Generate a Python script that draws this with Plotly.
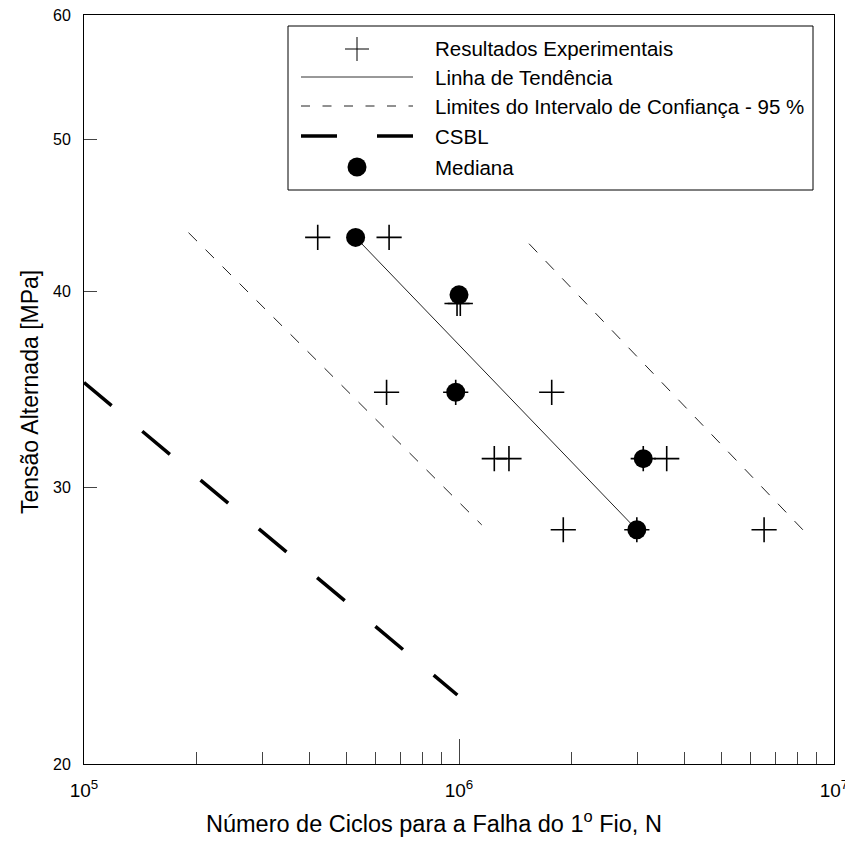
import plotly.graph_objects as go

# ---------------- data ----------------
cross_N = [4.20e5, 6.51e5, 9.88e5, 1.008e6, 6.41e5, 9.80e5, 1.767e6,
           1.242e6, 1.359e6, 3.10e6, 3.58e6, 1.897e6, 2.98e6, 6.51e6]
cross_S = [43.3, 43.3, 39.3, 39.3, 34.5, 34.5, 34.5,
           31.3, 31.3, 31.3, 31.3, 28.2, 28.2, 28.2]

median_N = [5.30e5, 1.00e6, 9.80e5, 3.10e6, 2.98e6]
median_S = [43.3, 39.8, 34.5, 31.3, 28.2]

trend_N = [5.30e5, 2.98e6]
trend_S = [43.3, 28.2]

ci_low_N = [1.90e5, 1.15e6]
ci_low_S = [43.6, 28.4]
ci_up_N = [1.537e6, 8.40e6]
ci_up_S = [42.9, 28.08]

csbl_N = [1.0e5, 9.9e5]
csbl_S = [35.0, 22.13]

x_tickvals = [1e5, 1e6, 1e7]
x_ticktext = ["10<sup>5</sup>", "10<sup>6</sup>", "10<sup>7</sup>"]
x_minor = [2e5, 3e5, 4e5, 5e5, 6e5, 7e5, 8e5, 9e5,
           2e6, 3e6, 4e6, 5e6, 6e6, 7e6, 8e6, 9e6]
y_tickvals = [20, 30, 40, 50, 60]

legend_labels = ["Resultados Experimentais", "Linha de Tendência",
                 "Limites do Intervalo de Confiança - 95 %", "CSBL", "Mediana"]
x_title = "Número de Ciclos para a Falha do 1<sup>o</sup> Fio, N"
y_title = "Tensão Alternada [MPa]"

FONT = "Liberation Sans, Arial, sans-serif"

# ---------------- layout geometry ----------------
# page offset (body margin) of the html page
OFF = 8
W, H = 853 - OFF, 845 - OFF
# plot area in page pixels
L, R, T, B = 84, 834, 15, 764


def px(x):
    return (x - L) / (R - L)


def py(y):
    return (B - y) / (B - T)


fig = go.Figure()

fig.add_trace(go.Scatter(x=csbl_N, y=csbl_S, mode="lines",
                         line=dict(color="black", width=3.5, dash="36px,40px"),
                         showlegend=False))
fig.add_trace(go.Scatter(x=ci_low_N, y=ci_low_S, mode="lines",
                         line=dict(color="#222", width=1, dash="12px,12px"),
                         showlegend=False))
fig.add_trace(go.Scatter(x=ci_up_N, y=ci_up_S, mode="lines",
                         line=dict(color="#222", width=1, dash="12px,12px"),
                         showlegend=False))
fig.add_trace(go.Scatter(x=trend_N, y=trend_S, mode="lines",
                         line=dict(color="#222", width=1),
                         showlegend=False))
fig.add_trace(go.Scatter(x=cross_N, y=cross_S, mode="markers",
                         marker=dict(symbol="cross-thin", size=18, color="black",
                                     line=dict(color="black", width=1.6)),
                         showlegend=False))
fig.add_trace(go.Scatter(x=median_N, y=median_S, mode="markers",
                         marker=dict(symbol="circle", size=19, color="black",
                                     line=dict(width=0)),
                         showlegend=False))

# ---------------- manual legend ----------------
shapes = []
annotations = []
box = dict(x0=288, x1=813, y0=26, y1=190)
shapes.append(dict(type="rect", xref="paper", yref="paper",
                   x0=px(box["x0"]), x1=px(box["x1"]), y0=py(box["y1"]), y1=py(box["y0"]),
                   line=dict(color="black", width=1), fillcolor="white", layer="above"))
rows = [49, 77, 106, 136, 167]
sx0, sx1, sxc = 301, 413, 357
shapes.append(dict(type="line", xref="paper", yref="paper",
                   x0=px(sxc - 12), x1=px(sxc + 12), y0=py(rows[0]), y1=py(rows[0]),
                   line=dict(color="black", width=1), layer="above"))
shapes.append(dict(type="line", xref="paper", yref="paper",
                   x0=px(sxc), x1=px(sxc), y0=py(rows[0] - 12), y1=py(rows[0] + 12),
                   line=dict(color="black", width=1), layer="above"))
shapes.append(dict(type="line", xref="paper", yref="paper",
                   x0=px(sx0), x1=px(sx1), y0=py(rows[1]), y1=py(rows[1]),
                   line=dict(color="#333", width=1), layer="above"))
shapes.append(dict(type="line", xref="paper", yref="paper",
                   x0=px(sx0), x1=px(sx1), y0=py(rows[2]), y1=py(rows[2]),
                   line=dict(color="#222", width=1, dash="9px,12.5px"), layer="above"))
shapes.append(dict(type="line", xref="paper", yref="paper",
                   x0=px(sx0), x1=px(sx1), y0=py(rows[3]), y1=py(rows[3]),
                   line=dict(color="black", width=3.5, dash="36px,40px"), layer="above"))
shapes.append(dict(type="circle", xref="paper", yref="paper",
                   xsizemode="pixel", ysizemode="pixel",
                   xanchor=px(sxc), yanchor=py(rows[4]),
                   x0=-9.5, x1=9.5, y0=-9.5, y1=9.5,
                   fillcolor="black", line=dict(color="black", width=0), layer="above"))
for lab, r in zip(legend_labels, rows):
    annotations.append(dict(text=lab, xref="paper", yref="paper",
                            x=px(433), y=py(r), xanchor="left", yanchor="middle",
                            showarrow=False, font=dict(family=FONT, size=20.5, color="black")))

# axis titles
annotations.append(dict(text=x_title, xref="paper", yref="paper",
                        x=px(434), y=py(822), xanchor="center", yanchor="middle",
                        showarrow=False, font=dict(family=FONT, size=23.5, color="black")))
annotations.append(dict(text=y_title, xref="paper", yref="paper",
                        x=px(30), y=py(392), xanchor="center", yanchor="middle",
                        textangle=-90,
                        showarrow=False, font=dict(family=FONT, size=23, color="black")))

fig.update_layout(
    width=W, height=H,
    margin=dict(l=L - OFF, r=W - (R - OFF), t=T - OFF, b=H - (B - OFF), pad=0,
                autoexpand=False),
    paper_bgcolor="white", plot_bgcolor="white",
    font=dict(family=FONT, color="black"),
    shapes=shapes, annotations=annotations,
    showlegend=False,
)
fig.update_xaxes(
    type="log", range=[5, 7], automargin=False,
    tickvals=x_tickvals, ticktext=x_ticktext,
    ticks="inside", ticklen=25, tickwidth=1, tickcolor="#444",
    minor=dict(tickvals=x_minor, ticks="inside", ticklen=12, tickwidth=1, tickcolor="#444"),
    showline=True, linecolor="black", linewidth=1, mirror=True,
    showgrid=False, zeroline=False,
    tickfont=dict(family=FONT, size=19, color="black"),
    ticklabelstandoff=9, ticklabeloverflow="allow",
)
fig.update_yaxes(
    type="log", range=[1.30103, 1.778151], automargin=False,
    tickvals=y_tickvals, ticktext=[str(v) for v in y_tickvals],
    ticks="inside", ticklen=13, tickwidth=1, tickcolor="#444",
    showline=True, linecolor="black", linewidth=1, mirror=True,
    showgrid=False, zeroline=False,
    tickfont=dict(family=FONT, size=16, color="black"),
    ticklabelstandoff=9, ticklabeloverflow="allow",
)

fig.write_html("out.html")
